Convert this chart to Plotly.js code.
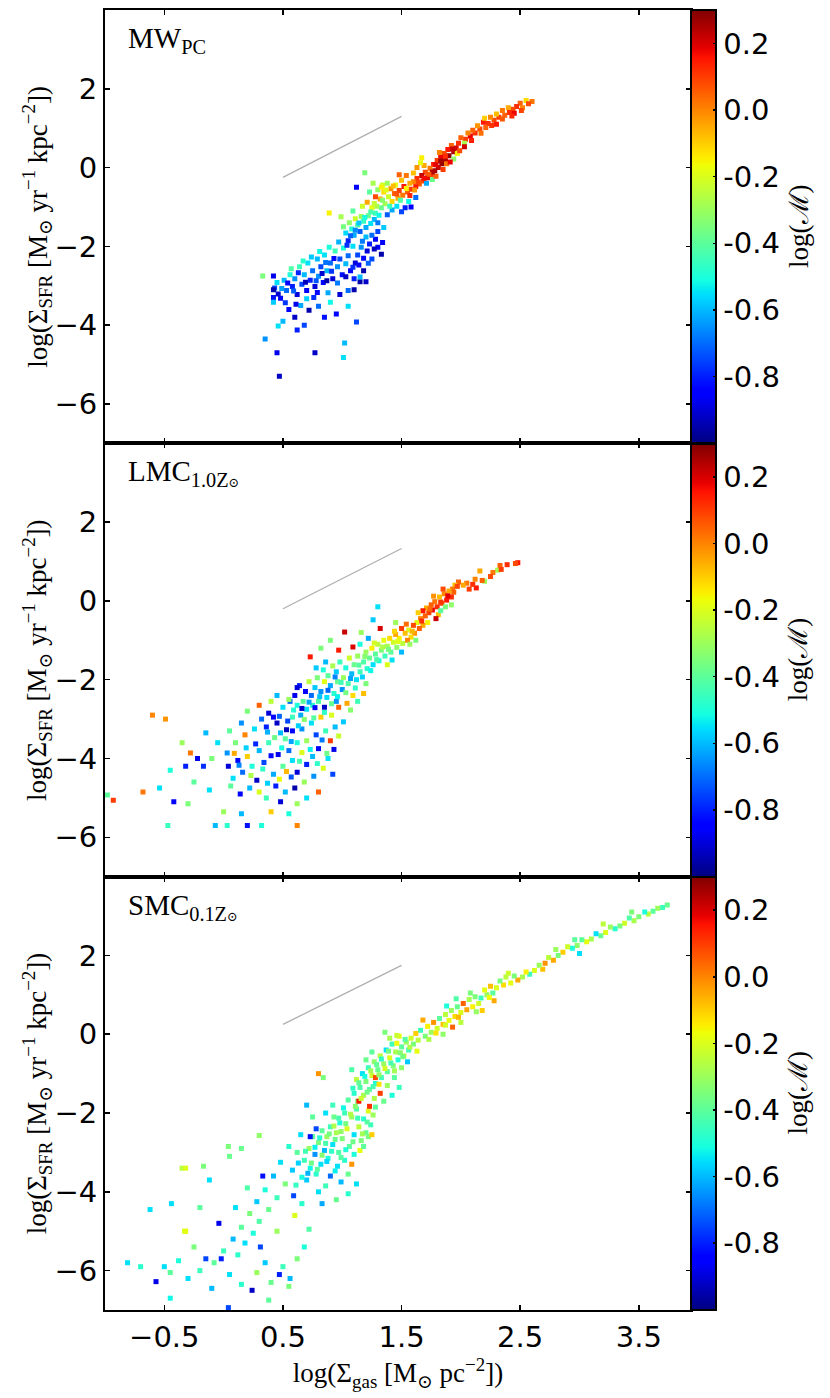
<!DOCTYPE html>
<html>
<head>
<meta charset="utf-8">
<script src="https://cdn.plot.ly/plotly-3.0.1.min.js"></script>
<style>
  html, body { margin: 0; padding: 0; background: #fff; }
  #chart { width: 830px; height: 1398px; }
</style>
</head>
<body>
<div id="chart"></div>
<script>
// points: [log Sigma_gas, log Sigma_SFR, log M]
const mwPoints = [
  [2.60,1.68,0.02],[2.55,1.70,-0.12],[2.57,1.62,0.08],[2.50,1.63,0.05],[2.47,1.55,0.12],[2.52,1.52,0.00],[2.44,1.48,0.08],[2.40,1.52,-0.05],[2.41,1.40,0.12],[2.37,1.33,0.05],
  [2.35,1.45,0.02],[2.32,1.28,0.10],[2.30,1.36,-0.08],[2.28,1.20,0.08],[2.25,1.28,0.00],[2.23,1.12,0.12],[2.21,1.02,0.05],[2.19,1.15,0.15],[2.16,0.98,0.08],[2.14,1.06,-0.02],
  [2.12,0.88,0.12],[2.10,0.95,0.05],[2.08,0.80,0.18],[2.06,0.88,0.00],[2.04,0.72,0.10],[2.03,0.62,-0.28],[2.00,0.76,0.05],[2.30,1.10,0.15],[2.45,1.38,0.18],[2.20,1.25,-0.10],
  [1.98,0.62,0.12],[1.96,0.50,0.20],[1.94,0.40,0.25],[1.92,0.56,0.05],[1.90,0.30,0.28],[1.89,0.46,0.15],[1.87,0.20,0.25],[1.86,0.36,0.08],[1.84,0.10,0.28],[1.83,0.26,0.18],
  [1.81,0.00,0.22],[1.80,0.18,0.10],[1.78,-0.08,0.25],[1.77,0.08,0.15],[1.75,-0.18,0.12],[1.74,-0.02,0.02],[1.72,-0.26,0.18],[1.70,-0.12,0.08],[1.68,-0.34,0.10],[1.67,-0.20,0.22],
  [1.65,-0.42,0.05],[1.63,-0.28,0.12],[1.62,-0.48,0.15],[1.60,-0.36,0.00],[1.94,0.22,-0.32],[1.97,0.36,-0.15],[1.88,0.10,0.02],[1.76,-0.30,-0.38],[1.71,-0.40,-0.62],[1.82,0.38,0.00],
  [1.91,0.14,0.18],[1.85,-0.05,0.10],[1.69,0.05,-0.05],[1.79,-0.22,0.05],[1.66,0.12,-0.18],
  [1.58,-0.55,0.10],[1.57,-0.40,-0.05],[1.55,-0.62,0.05],[1.54,-0.20,0.02],[1.52,-0.48,0.15],[1.51,-0.70,0.02],[1.50,-0.32,-0.08],[1.48,-0.58,0.10],[1.47,-0.78,-0.05],[1.45,-0.44,-0.18],
  [1.44,-0.66,0.05],[1.42,-0.86,-0.12],[1.41,-0.54,-0.02],[1.39,-0.74,-0.22],[1.38,-0.40,-0.30],[1.36,-0.92,-0.28],[1.35,-0.62,-0.12],[1.33,-1.02,-0.38],[1.32,-0.80,-0.05],[1.30,-0.56,-0.32],
  [1.58,-1.00,-0.85],[1.53,-1.02,-0.80],[1.50,-1.12,-0.75],[1.56,-0.86,-0.52],[1.62,-0.76,-0.70],[1.46,-0.98,-0.55],[1.42,-1.08,-0.62],[1.38,-1.20,-0.72],[1.40,-0.98,-0.45],[1.60,-0.14,-0.08],
  [1.63,0.00,-0.02],[1.67,0.25,-0.15],[1.48,-0.18,0.05],[1.34,-0.44,-0.22],[1.28,-0.74,0.08],
  [1.29,-0.98,-0.28],[1.28,-1.16,-0.45],[1.27,-1.32,-0.60],[1.25,-1.02,-0.18],[1.24,-1.42,-0.55],[1.22,-1.22,-0.38],[1.21,-0.88,-0.05],[1.20,-1.52,-0.62],[1.18,-1.36,-0.46],[1.16,-1.24,-0.30],
  [1.15,-1.62,-0.72],[1.13,-1.46,-0.42],[1.11,-1.30,-0.22],[1.10,-1.72,-0.62],[1.08,-1.56,-0.50],[1.06,-1.40,-0.32],[1.05,-1.86,-0.80],[1.03,-1.66,-0.56],[1.01,-1.50,-0.36],[1.19,-0.13,-0.35],
  [1.12,-0.50,-0.85],[1.26,-0.40,-0.28],[1.33,-0.50,-0.15],[1.23,-0.62,-0.40],[1.17,-0.98,-0.22],[1.09,-1.10,-0.40],[0.89,-1.15,-0.15],[0.99,-1.25,-0.28],[1.30,-1.40,-0.68],[1.35,-1.52,-0.58],
  [1.34,-1.90,-0.85],[1.33,-2.20,-0.95],[1.30,-1.62,-0.75],[1.28,-1.82,-0.85],[1.25,-1.72,-0.70],[1.23,-1.94,-0.80],[1.21,-2.12,-0.90],[1.20,-1.76,-0.60],[1.18,-2.30,-0.85],[1.16,-2.02,-0.65],
  [1.13,-2.22,-0.75],[1.11,-2.42,-0.90],[1.09,-2.00,-0.55],[1.07,-2.62,-0.85],[1.05,-2.24,-0.70],[1.03,-2.44,-0.60],[1.01,-2.04,-0.50],[1.00,-2.72,-0.82],[0.98,-2.32,-0.75],[0.96,-2.52,-0.65],
  [0.94,-2.12,-0.45],[0.92,-2.82,-0.90],[0.90,-2.42,-0.70],[0.89,-2.02,-0.50],[0.87,-2.62,-0.60],[0.85,-2.22,-0.55],[0.84,-2.92,-0.85],[0.82,-2.52,-0.75],[0.80,-2.76,-0.65],[0.79,-2.32,-0.60],
  [0.77,-3.02,-0.90],[0.75,-2.62,-0.70],[0.73,-2.86,-0.80],[0.71,-2.42,-0.55],[0.70,-3.12,-0.85],[0.68,-2.72,-0.60],[0.66,-2.96,-0.75],[0.64,-2.52,-0.45],[0.62,-3.22,-0.90],[0.60,-2.82,-0.65],
  [0.58,-3.02,-0.80],[0.56,-2.72,-0.50],[0.53,-3.12,-0.70],[0.51,-2.86,-0.60],[0.48,-3.32,-0.85],[0.45,-2.92,-0.55],[0.43,-3.06,-0.75],[0.33,-2.75,-0.35],[0.42,-2.75,-0.88],[0.42,-3.10,-0.95],
  [0.42,-3.30,-0.82],[0.42,-3.42,-0.58],[1.15,-2.90,-0.95],[1.20,-2.90,-0.92],[1.10,-3.10,-0.95],
  [0.55,-3.60,-0.85],[0.60,-3.80,-0.92],[0.65,-3.50,-0.62],[0.68,-4.00,-0.75],[0.72,-3.62,-0.95],[0.80,-3.52,-0.70],[0.85,-3.80,-0.82],[0.90,-3.42,-0.52],[0.95,-3.72,-0.85],[1.05,-3.52,-0.55],
  [1.12,-3.92,-0.75],[0.50,-3.90,-0.60],[0.46,-4.02,-0.55],[0.62,-4.12,-0.80],[0.98,-3.22,-0.90],[1.05,-3.12,-0.70],[1.10,-2.82,-0.80],[1.18,-2.62,-0.95],[1.15,-2.78,-0.60],[1.25,-2.32,-0.75],
  [1.30,-2.02,-0.85],[0.88,-3.18,-0.62],[0.76,-3.30,-0.78],
  [0.35,-4.35,-0.65],[0.45,-4.70,-0.88],[0.47,-5.30,-0.92],[0.77,-4.70,-0.92],[1.02,-4.45,-0.60],[1.01,-4.82,-0.55]
];
const mwMore = [
  [1.93,0.47,0.22],[1.87,0.29,0.12],[1.83,0.17,0.26],[1.79,0.07,0.19],[1.76,-0.11,0.24],[1.73,-0.17,0.06],[1.69,-0.27,0.17],[1.64,-0.37,0.09],[1.61,-0.57,-0.03],[1.57,-0.71,0.13],
  [1.54,-0.53,-0.15],[1.49,-0.83,-0.42],[1.46,-0.67,0.07],[1.43,-0.47,-0.08],[1.37,-0.57,-0.19],[1.34,-0.83,-0.33],[1.31,-1.21,-0.52],[1.27,-0.91,-0.24],[1.24,-1.13,-0.43],[1.19,-1.27,-0.51],
  [1.14,-1.41,-0.58],[1.11,-1.59,-0.66],[1.07,-1.73,-0.71],[1.04,-1.97,-0.78],[0.97,-1.89,-0.61],[0.93,-2.31,-0.83],[0.91,-2.63,-0.77],[0.86,-2.41,-0.69],[0.83,-2.69,-0.91],[0.81,-2.13,-0.52],
  [0.78,-2.87,-0.73],[0.74,-2.27,-0.58],[0.69,-2.91,-0.93],[0.67,-2.37,-0.48],[0.63,-2.67,-0.79],[0.59,-3.13,-0.72],[0.57,-2.57,-0.42],[0.54,-2.93,-0.86],[0.49,-3.07,-0.63],[0.46,-3.21,-0.91],
  [0.52,-3.43,-0.77],[0.61,-3.47,-0.88],[0.70,-3.33,-0.57],[0.79,-3.17,-0.83],[0.87,-2.87,-0.95],[0.96,-2.93,-0.68],[1.03,-2.77,-0.92],[1.09,-2.53,-0.78],[1.14,-2.47,-0.86],[1.22,-2.43,-0.71],
  [1.27,-2.07,-0.93],[1.17,-1.87,-0.68],[2.09,0.69,0.14],[2.17,0.87,0.03],[2.26,1.07,0.11],[2.35,1.23,0.06],[2.43,1.31,0.13],[2.51,1.45,0.09],[2.03,0.53,0.21],[1.99,0.43,0.08]
];

const lmcPoints = [
  [2.48,0.97,0.15],[2.46,0.95,0.08],[2.39,0.92,0.12],[2.33,0.90,0.05],[2.31,0.78,-0.28],[2.34,0.80,0.10],[2.27,0.72,0.02],[2.20,0.50,-0.30],[2.18,0.52,0.05],[2.16,0.76,-0.05],
  [2.13,0.33,0.15],[2.12,0.55,0.00],[2.05,0.45,0.02],[2.02,0.40,-0.05],[1.98,0.48,0.05],[1.95,0.40,-0.08],[2.07,0.30,0.10],[2.10,0.42,0.12],[1.93,0.30,0.02],[2.25,0.62,0.08],
  [1.94,0.22,0.05],[1.92,0.10,0.12],[1.90,0.25,-0.05],[1.88,0.02,0.15],[1.86,0.18,0.00],[1.84,-0.06,0.08],[1.82,0.10,-0.08],[1.80,-0.15,0.12],[1.78,-0.02,0.02],[1.76,-0.23,0.18],
  [1.75,-0.10,0.05],[1.73,-0.30,0.10],[1.71,-0.18,-0.05],[1.70,-0.38,0.05],[1.68,-0.25,0.15],[1.66,-0.45,0.00],[1.87,-0.15,-0.35],[1.92,-0.10,-0.32],[1.81,-0.35,-0.08],[1.85,0.30,0.08],
  [1.64,-0.30,-0.10],[1.72,-0.55,-0.15],[1.79,-0.45,0.22],[1.83,-0.25,-0.40],[1.77,0.12,-0.02],
  [1.68,-0.62,-0.05],[1.65,-0.70,0.05],[1.63,-0.55,-0.18],[1.61,-0.82,-0.02],[1.60,-0.62,0.08],[1.58,-0.92,-0.12],[1.56,-0.74,-0.20],[1.55,-1.00,0.00],[1.53,-0.82,-0.08],[1.51,-1.08,-0.25],
  [1.50,-0.70,0.10],[1.48,-0.95,-0.15],[1.46,-1.18,-0.32],[1.45,-0.85,-0.05],[1.43,-1.05,-0.22],[1.41,-1.30,-0.40],[1.40,-0.95,-0.12],[1.38,-1.15,-0.28],[1.36,-1.40,-0.45],[1.35,-1.00,-0.18],
  [1.33,-1.25,-0.35],[1.31,-1.52,-0.50],[1.30,-1.10,-0.25],[1.28,-1.35,-0.40],[1.26,-1.62,-0.55],[1.25,-1.20,-0.15],[1.23,-1.45,-0.38],[1.21,-1.72,-0.48],[1.20,-1.30,-0.30],[1.18,-1.55,-0.42],
  [1.32,-0.70,0.20],[1.45,-0.55,-0.30],[1.50,-1.30,-0.60],[1.57,-1.10,-0.30],[1.62,-1.00,-0.35],[1.42,-1.50,-0.55],[1.38,-1.62,-0.20],[1.22,-0.95,-0.62],[1.16,-0.80,-0.30],[1.15,-1.10,-0.50],
  [1.15,-1.80,-0.45],[1.13,-1.40,-0.30],[1.12,-2.00,-0.55],[1.10,-1.62,-0.38],[1.08,-1.85,-0.60],[1.06,-1.45,-0.22],[1.05,-2.10,-0.42],[1.03,-1.70,-0.50],[1.01,-1.95,-0.30],[1.00,-2.25,-0.65],
  [0.98,-1.55,-0.45],[0.96,-2.05,-0.38],[0.95,-1.80,-0.58],[0.93,-2.35,-0.48],[0.92,-1.65,-0.28],[0.90,-2.15,-0.62],[0.88,-1.90,-0.40],[0.87,-2.45,-0.55],[0.85,-2.05,-0.18],[0.84,-1.75,-0.50],
  [0.82,-2.30,-0.65],[0.80,-2.55,-0.42],[0.79,-1.95,-0.35],[0.77,-2.20,-0.58],[0.75,-2.65,-0.48],[0.74,-2.40,-0.70],[0.72,-2.05,-0.25],[0.70,-2.75,-0.55],[0.69,-2.30,-0.85],[0.67,-2.55,-0.40],
  [0.65,-2.90,-0.62],[0.64,-2.15,-0.80],[0.62,-2.65,-0.50],[0.60,-2.40,-0.88],[0.58,-2.95,-0.45],[0.56,-2.55,-0.70],[1.09,-2.40,-0.12],[1.04,-2.60,-0.05],[0.97,-2.70,0.05],[0.91,-2.90,-0.20],
  [1.20,-2.10,-0.35],[1.18,-2.35,-0.08],[1.13,-2.55,-0.45],[0.73,-1.42,0.15],[1.02,-0.79,0.22],[0.82,-1.20,-0.35],[1.30,-0.15,-0.55],[1.26,-0.48,-0.58],[0.97,-1.25,0.15],[1.09,-1.17,0.20],
  [0.90,-1.00,-0.35],[0.86,-1.55,-0.60],[0.78,-1.70,-0.58],
  [0.38,-2.85,-0.90],[0.42,-2.95,-0.85],[0.45,-3.10,-0.92],[0.36,-3.20,-0.80],[0.50,-2.70,-0.55],[0.54,-3.05,-0.75],[0.48,-3.35,-0.60],[0.52,-3.50,-0.40],[0.58,-3.30,-0.85],[0.62,-3.60,-0.50],
  [0.66,-3.25,-0.65],[0.70,-3.55,-0.30],[0.74,-3.10,-0.55],[0.78,-3.40,-0.75],[0.82,-2.95,-0.10],[0.86,-3.30,-0.45],[0.90,-3.55,0.10],[0.94,-3.20,-0.60],[0.80,-3.75,-0.85],[0.75,-3.95,-0.60],
  [0.70,-4.15,-0.80],[0.66,-3.85,-0.20],[0.62,-4.35,-0.90],[0.58,-4.05,-0.55],[0.55,-3.80,-0.70],[0.50,-4.20,-0.40],[0.46,-3.90,-0.88],[0.42,-4.40,-0.62],[0.38,-3.60,-0.45],[0.34,-4.10,-0.75],
  [0.30,-3.80,-0.60],[0.28,-4.55,-0.92],[0.24,-4.20,-0.50],[0.20,-3.95,-0.10],[0.16,-4.35,-0.70],[0.12,-4.05,-0.85],[0.08,-4.50,-0.55],[0.04,-4.20,-0.90],[0.03,-3.86,-0.65],[0.10,-3.60,-0.35],
  [0.18,-3.40,0.00],[0.26,-3.25,-0.55],[0.32,-3.00,-0.70],[0.44,-4.70,-0.80],[0.52,-4.85,-0.60],[0.60,-4.75,-0.95],[0.68,-4.60,-0.30],[0.76,-4.45,-0.65],[0.84,-4.25,-0.20],[0.88,-4.00,-0.55],
  [0.92,-4.40,-0.75],[0.36,-5.00,-0.45],[0.30,-4.85,-0.20],[0.22,-4.75,-0.60],[0.14,-4.90,-0.85],[0.06,-4.70,-0.40],[0.48,-5.10,-0.90],[0.62,-5.15,-0.30],[0.70,-5.00,-0.55],[0.80,-4.85,0.05],
  [0.55,-2.50,-0.30],[0.62,-2.20,-0.90],[0.45,-2.40,-0.60],[0.40,-2.55,-0.25],[0.30,-2.65,0.05],[0.20,-2.80,-0.35],[0.15,-3.10,-0.65],[0.05,-3.30,-0.40],[-0.05,-3.60,-0.55],[-0.10,-4.00,-0.35],
  [0.95,-2.55,-0.65],[0.85,-2.70,-0.92],
  [-0.47,-5.70,-0.45],[-0.07,-5.70,-0.60],[0.03,-5.70,-0.48],[0.20,-5.70,-0.82],[0.32,-5.70,-0.50],[0.62,-5.70,0.00],[-0.98,-4.93,-0.40],[-0.93,-5.06,0.10],[-0.60,-2.90,0.00],[-0.49,-3.00,-0.02],
  [-0.68,-4.85,0.02],[-0.54,-4.75,-0.55],[-0.45,-4.30,-0.50],[-0.42,-5.10,-0.85],[-0.30,-5.15,-0.35],[-0.28,-3.86,0.02],[-0.22,-4.00,-0.88],[-0.32,-4.20,-0.80],[-0.17,-4.20,-0.78],[-0.25,-4.60,-0.40],
  [-0.12,-4.80,-0.55],[0.00,-5.35,-0.30],[0.15,-5.40,-0.60],[0.40,-5.35,-0.10],[0.55,-5.40,-0.50],[-0.35,-3.60,-0.30],[-0.15,-3.35,-0.60]
];
const lmcMore = [
  [1.97,0.37,0.09],[1.89,0.13,0.19],[1.83,-0.03,0.11],[1.74,-0.21,0.04],[1.67,-0.51,0.12],[1.59,-0.77,-0.07],[1.54,-0.59,0.03],[1.47,-1.03,-0.19],[1.44,-0.77,-0.11],[1.39,-1.23,-0.36],
  [1.34,-1.17,-0.27],[1.29,-1.49,-0.43],[1.27,-1.07,-0.21],[1.24,-1.77,-0.52],[1.19,-1.41,-0.33],[1.17,-1.93,-0.57],[1.14,-1.63,-0.41],[1.11,-2.21,-0.47],[1.07,-1.97,-0.63],[1.03,-2.33,-0.36],
  [0.99,-2.07,-0.44],[0.96,-2.43,-0.53],[0.94,-1.93,-0.67],[0.91,-2.61,-0.39],[0.88,-2.27,-0.71],[0.85,-2.83,-0.47],[0.81,-2.43,-0.59],[0.77,-2.71,-0.83],[0.76,-2.97,-0.41],[0.72,-2.57,-0.62],
  [0.68,-3.01,-0.33],[0.66,-2.73,-0.91],[0.63,-3.17,-0.57],[0.59,-2.77,-0.49],[0.57,-3.57,-0.63],[0.53,-3.27,-0.93],[0.49,-3.73,-0.51],[0.47,-2.93,-0.71],[0.43,-3.47,-0.37],[0.40,-3.93,-0.83],
  [0.37,-3.33,-0.61],[0.33,-4.27,-0.47],[0.27,-3.63,-0.79],[0.23,-4.43,-0.27],[0.19,-3.73,-0.57],[0.13,-4.17,-0.67],[0.09,-3.87,-0.05],[0.57,-4.47,-0.73],[0.64,-4.07,-0.43],[0.73,-3.77,-0.53],
  [0.83,-3.53,-0.68],[0.87,-3.87,-0.37],[0.97,-3.43,-0.23],[1.01,-3.07,-0.58],[1.07,-2.77,-0.33],[0.93,-3.77,-0.88],[0.47,-4.53,-0.17],[0.37,-4.63,-0.57],[0.53,-4.33,-0.07],[0.79,-4.13,-0.47]
];

const smcPoints = [
  [3.74,3.28,-0.38],[3.70,3.22,-0.45],[3.66,3.20,-0.30],[3.62,3.12,-0.40],[3.58,3.05,-0.25],[3.55,3.10,-0.50],[3.50,2.98,-0.35],[3.46,2.88,-0.28],[3.42,2.95,-0.42],[3.38,2.82,-0.22],
  [3.34,2.75,-0.35],[3.30,2.68,-0.48],[3.26,2.72,-0.30],[3.22,2.58,-0.20],[3.18,2.50,-0.38],[3.14,2.55,-0.55],[3.10,2.42,-0.28],[3.06,2.35,-0.18],[3.02,2.40,-0.40],[2.98,2.25,-0.32],
  [2.94,2.18,-0.50],[2.90,2.22,-0.22],[2.86,2.08,-0.10],[2.82,2.00,-0.35],[2.78,1.88,-0.05],[2.74,1.95,-0.25],[2.71,1.80,-0.02],[2.69,1.65,-0.08],[2.66,1.75,-0.30],[2.62,1.62,-0.20],
  [2.58,1.52,-0.45],[2.55,1.58,-0.15],[2.52,1.45,-0.28],[2.48,1.38,-0.05],[2.45,1.48,-0.35],[2.42,1.30,-0.18],[2.40,1.55,-0.22],[3.20,2.80,-0.25],[2.96,2.40,-0.40],[2.80,2.15,-0.30],
  [3.44,3.10,-0.35],[3.00,2.05,-0.55],
  [2.38,1.45,-0.25],[2.36,1.25,-0.12],[2.33,1.35,-0.35],[2.30,1.18,-0.20],[2.27,1.05,-0.40],[2.25,1.22,-0.08],[2.22,1.00,-0.30],[2.20,1.12,-0.18],[2.17,0.92,-0.45],[2.15,0.78,-0.22],
  [2.12,0.95,-0.35],[2.10,0.70,-0.15],[2.07,0.88,-0.28],[2.05,0.62,-0.05],[2.02,0.78,0.05],[2.00,0.55,-0.20],[1.97,0.70,-0.38],[1.95,0.45,-0.12],[1.92,0.60,-0.30],[1.90,0.35,-0.18],
  [1.87,0.50,-0.25],[1.85,0.25,-0.08],[1.82,0.40,-0.40],[1.80,0.15,-0.22],[1.77,0.30,-0.02],[1.75,0.05,-0.30],[1.72,0.20,-0.15],[1.70,-0.05,-0.35],[1.68,0.36,-0.05],[1.66,0.10,-0.45],
  [1.64,-0.15,-0.25],[1.62,0.02,-0.10],[2.18,0.60,-0.10],[2.08,1.05,-0.35],[1.96,0.90,-0.42],[2.28,0.85,-0.05],[1.88,0.72,-0.50],[2.00,0.30,-0.25],[1.85,0.00,-0.32],[1.93,0.18,0.05],
  [1.60,-0.25,-0.35],[1.58,-0.10,-0.22],[1.56,-0.40,-0.45],[1.54,-0.20,-0.30],[1.52,-0.55,-0.25],[1.50,-0.32,-0.40],[1.48,-0.05,-0.18],[1.47,-0.65,-0.50],[1.45,-0.45,-0.28],[1.43,-0.80,-0.35],
  [1.42,-0.25,-0.45],[1.40,-0.60,-0.20],[1.38,-0.95,-0.40],[1.37,-0.40,-0.55],[1.35,-0.75,-0.30],[1.33,-1.10,-0.45],[1.32,-0.55,-0.25],[1.30,-0.90,-0.38],[1.28,-1.25,-0.50],[1.27,-0.70,-0.32],
  [1.25,-1.05,-0.22],[1.23,-1.40,-0.40],[1.22,-0.85,-0.45],[1.20,-1.20,-0.35],[1.18,-1.55,-0.28],[1.17,-1.00,-0.55],[1.15,-1.35,-0.42],[1.13,-1.70,-0.35],[1.12,-1.15,-0.25],[1.10,-1.50,-0.48],
  [1.32,-1.50,0.10],[1.14,-1.70,0.15],[1.28,-1.10,0.08],[1.38,-1.30,-0.30],[1.44,-1.10,-0.40],[1.50,-0.85,-0.32],[1.55,-0.70,-0.58],[1.36,0.05,-0.35],[1.40,-0.10,-0.28],[1.25,-0.45,-0.40],
  [1.20,-0.65,-0.38],[1.48,-1.35,-0.45],[1.42,-1.55,-0.50],[1.35,-1.70,-0.38],[1.08,-0.90,-0.42],
  [1.28,-1.85,-0.40],[1.26,-2.05,-0.30],[1.24,-2.30,-0.45],[1.22,-1.95,-0.20],[1.20,-2.50,-0.38],[1.18,-2.15,-0.48],[1.16,-2.70,-0.35],[1.14,-2.35,-0.25],[1.12,-1.90,-0.42],[1.10,-2.55,-0.55],
  [1.08,-2.10,-0.30],[1.06,-2.85,-0.40],[1.04,-2.40,-0.20],[1.02,-2.00,-0.45],[1.00,-2.65,-0.35],[0.98,-2.25,-0.50],[0.97,-3.00,-0.42],[0.95,-2.50,-0.28],[0.93,-2.10,-0.38],[0.92,-2.80,-0.55],
  [0.90,-2.35,-0.45],[0.88,-3.15,-0.50],[0.87,-2.60,-0.30],[0.85,-2.95,-0.60],[0.83,-2.45,-0.40],[0.82,-3.30,-0.55],[0.80,-2.75,-0.35],[0.78,-3.55,-0.48],[0.77,-3.05,-0.65],[0.75,-2.60,-0.40],
  [0.73,-3.40,-0.52],[0.72,-2.90,-0.30],[0.70,-3.70,-0.58],[0.68,-3.20,-0.45],[0.73,-2.60,-0.82],[0.78,-2.40,-0.75],[0.96,-3.35,-0.55],[1.02,-3.20,-0.48],[1.05,-3.55,-0.38],[0.99,-3.75,-0.60],
  [0.90,-3.60,-0.70],[0.86,-3.85,-0.45],[0.80,-4.00,-0.55],[1.10,-3.05,-0.50],[1.15,-2.95,-0.18],[1.08,-3.30,-0.02],[1.12,-3.80,-0.55],[1.05,-4.05,-0.48],[0.95,-4.20,-0.38],[0.83,-4.30,-0.62],
  [0.92,-1.80,-0.45],[0.86,-2.00,-0.55],[0.80,-1.00,-0.02],[0.84,-1.10,-0.35],[0.70,-1.80,-0.60],[0.75,-2.10,-0.40],[1.18,-2.85,-0.40],[1.22,-2.60,-0.35],[1.25,-2.55,-0.10],
  [0.65,-2.55,-0.55],[0.62,-3.00,-0.40],[0.58,-3.45,-0.58],[0.55,-2.85,-0.48],[0.52,-3.80,-0.35],[0.48,-3.25,-0.55],[0.45,-4.15,-0.45],[0.42,-3.60,-0.60],[0.38,-4.45,-0.38],[0.35,-3.95,-0.50],
  [0.33,-3.60,-0.82],[0.30,-4.75,-0.42],[0.28,-4.25,-0.58],[0.25,-5.05,-0.50],[0.22,-4.55,-0.35],[0.18,-5.30,-0.55],[0.15,-4.90,-0.40],[0.12,-5.60,-0.48],[0.08,-5.20,-0.60],[0.05,-3.10,-0.38],
  [0.00,-5.50,-0.45],[-0.04,-4.80,-0.88],[-0.08,-5.80,-0.40],[-0.12,-3.70,-0.55],[-0.15,-5.70,-0.75],[-0.02,-5.70,-0.80],[-0.20,-6.00,-0.45],[-0.25,-5.40,-0.35],[-0.30,-6.20,-0.55],[-0.35,-3.40,-0.25],
  [-0.38,-5.75,-0.50],[-0.45,-6.05,-0.40],[-0.50,-5.90,-0.55],[-0.57,-6.28,-0.88],[-0.62,-4.45,-0.55],[-0.70,-5.90,-0.48],[-0.81,-5.80,-0.55],[0.04,-6.94,-0.75],[-0.45,-6.70,-0.52],[0.31,-5.40,-0.75],
  [0.24,-6.50,-0.92],[0.47,-6.10,-0.80],[0.59,-4.10,-0.75],[0.50,-5.90,-0.45],[0.56,-6.20,-0.60],[0.62,-5.70,-0.35],[0.68,-5.40,-0.50],[0.72,-4.95,-0.42],[0.40,-6.30,-0.38],[0.35,-5.80,-0.58],
  [0.28,-6.05,-0.30],[0.15,-6.35,-0.48],[0.05,-6.10,-0.55],[-0.10,-6.45,-0.60],[0.45,-5.00,-0.30],[0.60,-4.60,-0.20],[0.66,-4.30,-0.48],[0.20,-3.90,-0.42],[0.10,-4.40,-0.55],[-0.20,-4.40,-0.40],
  [-0.33,-5.00,-0.22],[0.38,-6.75,-0.40],[0.55,-6.40,-0.35],
  [-0.32,-3.40,-0.20],[-0.32,-5.00,-0.18],[-0.44,-4.30,-0.55],[-0.17,-3.35,-0.35],[0.04,-2.85,-0.35],[0.15,-2.90,-0.38],[0.30,-2.57,-0.32]
];
const smcMore = [
  [1.57,-0.33,-0.27],[1.53,-0.13,-0.41],[1.49,-0.47,-0.33],[1.46,-0.23,-0.17],[1.41,-0.73,-0.43],[1.39,-0.43,-0.36],[1.36,-0.87,-0.21],[1.33,-0.63,-0.47],[1.31,-1.03,-0.31],[1.29,-0.77,-0.39],
  [1.26,-1.33,-0.44],[1.24,-0.93,-0.29],[1.21,-1.47,-0.37],[1.19,-1.07,-0.51],[1.16,-1.63,-0.23],[1.14,-1.23,-0.39],[1.11,-1.83,-0.33],[1.09,-1.37,-0.47],[1.07,-2.03,-0.27],[1.05,-1.67,-0.41],
  [1.03,-2.27,-0.36],[1.01,-1.87,-0.52],[0.99,-2.47,-0.31],[0.97,-2.13,-0.43],[0.94,-2.67,-0.38],[0.93,-2.33,-0.27],[0.91,-2.97,-0.47],[0.89,-2.53,-0.36],[0.87,-3.23,-0.56],[0.86,-2.77,-0.43],
  [0.83,-3.07,-0.33],[0.81,-2.63,-0.48],[0.79,-3.43,-0.41],[0.77,-2.87,-0.53],[0.74,-3.27,-0.37],[0.71,-3.53,-0.61],[0.69,-2.97,-0.44],[0.66,-3.63,-0.51],[0.63,-3.27,-0.57],[0.61,-3.83,-0.46],
  [1.21,-2.23,-0.41],[1.17,-2.53,-0.29],[1.13,-2.13,-0.45],[1.09,-2.73,-0.37],[1.03,-2.93,-0.49],[0.99,-3.13,-0.41],[0.94,-3.47,-0.53],[1.27,-1.63,-0.27],[1.23,-1.83,0.12],[1.31,-1.27,-0.13],
  [1.44,-0.93,-0.29],[1.51,-0.57,-0.36],[1.46,-0.03,-0.23],[1.63,-0.43,-0.18],[1.73,-0.13,-0.27],[1.79,0.03,-0.13],[1.87,0.23,-0.21],[1.98,0.43,-0.07],[2.13,0.57,-0.31],[2.24,0.93,-0.17]
];

// grey reference segments (x, y per panel)
const guideX = [0.5, 1.5];
const mwGuideY = [-0.25, 1.30];
const lmcGuideY = [-0.20, 1.33];
const smcGuideY = [0.25, 1.75];

const xTickVals = [-0.5, 0.5, 1.5, 2.5, 3.5];
const yTickVals = [-6, -4, -2, 0, 2];
const cbTickVals = [-0.8, -0.6, -0.4, -0.2, 0.0, 0.2];
const cbTickText = ['-0.8', '-0.6', '-0.4', '-0.2', '0.0', '0.2'];

const panelLabels = [
  'MW<sub>PC</sub>',
  'LMC<sub>1.0Z<span style="font-size:13px">⊙</span></sub>',
  'SMC<sub>0.1Z<span style="font-size:13px">⊙</span></sub>'
];

// matplotlib "jet"
const jet = [
  [0, 'rgb(0,0,128)'], [0.11, 'rgb(0,0,255)'], [0.125, 'rgb(0,0,255)'],
  [0.34, 'rgb(0,219,255)'], [0.35, 'rgb(0,229,246)'], [0.375, 'rgb(20,255,226)'],
  [0.64, 'rgb(238,255,8)'], [0.65, 'rgb(246,245,0)'], [0.66, 'rgb(255,236,0)'],
  [0.89, 'rgb(255,18,0)'], [0.91, 'rgb(232,0,0)'], [1, 'rgb(128,0,0)']
];

const serif = '"Liberation Serif", "DejaVu Serif", serif';
const sans = '"DejaVu Sans", sans-serif';

const domains = [[2/3, 1], [1/3, 2/3], [0, 1/3]];

function cloud(points, n) {
  let d = domains[n - 1];
  return {
    type: 'scatter',
    mode: 'markers',
    x: points.map(p => p[0]),
    y: points.map(p => p[1]),
    xaxis: n === 1 ? 'x' : 'x' + n,
    yaxis: n === 1 ? 'y' : 'y' + n,
    hoverinfo: 'skip',
    showlegend: false,
    marker: {
      symbol: 'square',
      size: 5,
      line: {width: 0},
      color: points.map(p => p[2]),
      colorscale: jet,
      cmin: -1.0,
      cmax: 0.3,
      colorbar: {
        x: 1, xanchor: 'left', xpad: 0,
        y: (d[0] + d[1]) / 2, yanchor: 'middle', ypad: 0,
        len: 1/3, lenmode: 'fraction',
        thickness: 25, thicknessmode: 'pixels',
        outlinewidth: 2, outlinecolor: 'black',
        tickmode: 'array', tickvals: cbTickVals, ticktext: cbTickText,
        ticks: 'inside', ticklen: 4, tickwidth: 1.5, tickcolor: 'black',
        tickfont: {family: sans, size: 29, color: 'black'}
      }
    }
  };
}

function guide(yvals, n) {
  return {
    type: 'scatter', mode: 'lines',
    x: guideX, y: yvals,
    xaxis: n === 1 ? 'x' : 'x' + n,
    yaxis: n === 1 ? 'y' : 'y' + n,
    hoverinfo: 'skip', showlegend: false,
    line: {color: 'rgb(175,175,175)', width: 1.3}
  };
}

let data = [
  guide(mwGuideY, 1), cloud(mwPoints.concat(mwMore), 1),
  guide(lmcGuideY, 2), cloud(lmcPoints.concat(lmcMore), 2),
  guide(smcGuideY, 3), cloud(smcPoints.concat(smcMore), 3)
];

let layout = {
  width: 830,
  height: 1398,
  margin: {l: 105, r: 139, t: 10, b: 88},
  paper_bgcolor: 'white',
  plot_bgcolor: 'white',
  showlegend: false,
  annotations: []
};

const yTitle = 'log(Σ<sub>SFR</sub> [M<sub>⊙</sub> yr<sup>−1</sup> kpc<sup>−2</sup>])';

for (let n = 1; n <= 3; n++) {
  let xa = n === 1 ? 'xaxis' : 'xaxis' + n;
  let ya = n === 1 ? 'yaxis' : 'yaxis' + n;
  let d = domains[n - 1];
  layout[xa] = {
    range: [-1.0, 3.94],
    anchor: n === 1 ? 'y' : 'y' + n,
    tickmode: 'array', tickvals: xTickVals,
    ticks: 'inside', ticklen: 5, tickwidth: 1.5, tickcolor: 'black',
    mirror: 'allticks', showline: true, linewidth: 2, linecolor: 'black',
    showgrid: false, zeroline: false,
    showticklabels: n === 3,
    tickfont: {family: sans, size: 29, color: 'black'}
  };
  if (n > 1) layout[xa].matches = 'x';
  if (n === 3) {
    layout[xa].title = {
      text: 'log(Σ<sub>gas</sub> [M<sub>⊙</sub> pc<sup>−2</sup>])',
      font: {family: serif, size: 27, color: 'black'},
      standoff: 6
    };
  }
  layout[ya] = {
    domain: d,
    range: [-7, 4],
    anchor: n === 1 ? 'x' : 'x' + n,
    tickmode: 'array', tickvals: yTickVals,
    ticks: 'inside', ticklen: 5, tickwidth: 1.5, tickcolor: 'black',
    mirror: 'allticks', showline: true, linewidth: 2, linecolor: 'black',
    showgrid: false, zeroline: false,
    tickfont: {family: sans, size: 29, color: 'black'}
  };
  layout.annotations.push({
    xref: 'paper', yref: 'paper',
    x: -0.116, y: (d[0] + d[1]) / 2,
    xanchor: 'center', yanchor: 'middle',
    textangle: -90, showarrow: false,
    text: yTitle,
    font: {family: serif, size: 27, color: 'black'}
  });
  layout.annotations.push({
    xref: 'paper', yref: 'paper',
    x: 0.036, y: d[1],
    xanchor: 'left', yanchor: 'top', yshift: -10,
    showarrow: false,
    text: panelLabels[n - 1],
    font: {family: serif, size: 29, color: 'black'}
  });
  layout.annotations.push({
    xref: 'paper', yref: 'paper',
    x: 1.183, y: (d[0] + d[1]) / 2,
    xanchor: 'center', yanchor: 'middle',
    textangle: -90, showarrow: false,
    text: 'log(ℳ)',
    font: {family: serif, size: 27, color: 'black'}
  });
}

Plotly.newPlot('chart', data, layout, {staticPlot: true});
</script>
</body>
</html>
